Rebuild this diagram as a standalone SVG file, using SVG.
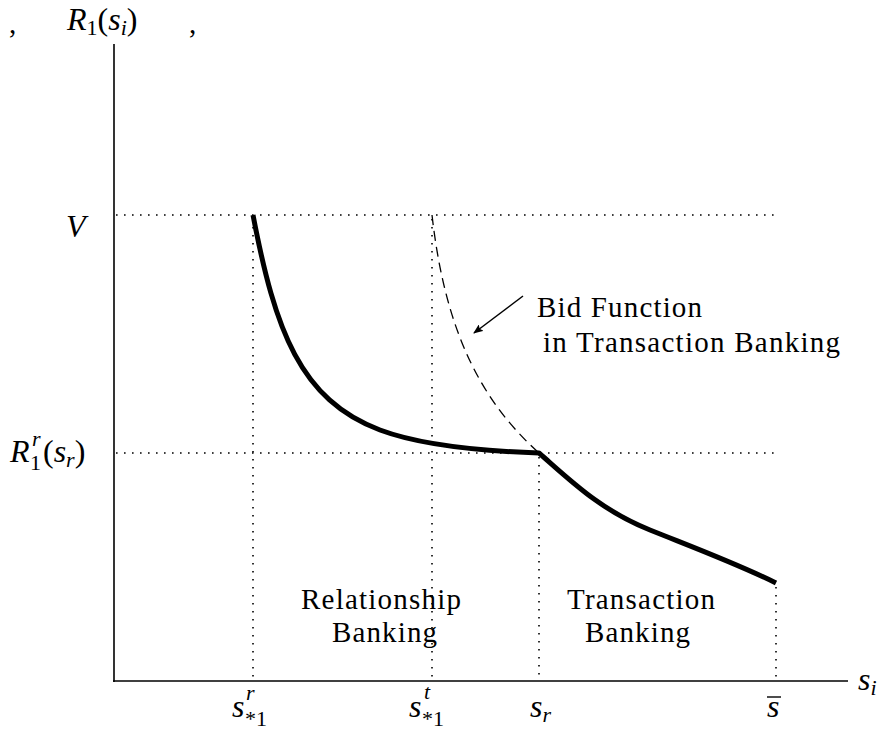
<svg xmlns="http://www.w3.org/2000/svg" width="885" height="731" viewBox="0 0 885 731">
<defs>
<marker id="ah" viewBox="0 0 10 8" refX="9" refY="4" markerWidth="10" markerHeight="8" orient="auto" markerUnits="userSpaceOnUse">
<path d="M0,0 L10,4 L0,8 L2,4 Z" fill="#000"/>
</marker>
</defs>
<g id="axes" stroke="#000" stroke-width="1.6" fill="none">
<line x1="114" y1="44" x2="114" y2="682"/>
<line x1="113" y1="681" x2="848" y2="681"/>
</g>
<g id="guides" stroke="#000" stroke-width="1.6" stroke-dasharray="1.6 6.4" fill="none">
<line x1="116" y1="215" x2="776" y2="215"/>
<line x1="116" y1="453" x2="776" y2="453"/>
<line x1="253" y1="219" x2="253" y2="680"/>
<line x1="432" y1="219" x2="432" y2="680"/>
<line x1="539" y1="457" x2="539" y2="680"/>
<line x1="776" y1="587" x2="776" y2="680"/>
</g>
<g id="connectors" fill="none" stroke="#000">
<path stroke-width="5" stroke-linejoin="round" d="M253,215 C275,330 300,400 380,430 C420,445 480,451 539,453 C570,480 600,510 650,530 C700,550 740,565 776,583"/>
<path stroke-width="1.3" stroke-dasharray="10 6" d="M432,215 C445,330 480,400 539,453"/>
<line x1="523" y1="296" x2="474" y2="333" stroke-width="1.5" marker-end="url(#ah)"/>
</g>
<g id="labels" fill="#000">
<text font-family="Times New Roman" font-size="29" x="9" y="33">,</text>
<text font-family="Times New Roman" font-size="29" x="189" y="33">,</text>
<text font-family="Times New Roman" font-size="32" x="67" y="30"><tspan font-style="italic">R</tspan><tspan font-size="22" dy="5">1</tspan><tspan dy="-5">(</tspan><tspan font-style="italic">s</tspan><tspan font-size="22" font-style="italic" dy="5">i</tspan><tspan dy="-5">)</tspan></text>
<text font-family="Times New Roman" font-size="32" font-style="italic" x="66" y="237">V</text>
<text font-family="Times New Roman" font-size="32" font-style="italic" x="10" y="462">R</text>
<text font-family="Times New Roman" font-size="22" font-style="italic" x="32" y="446">r</text>
<text font-family="Times New Roman" font-size="22" x="30" y="470">1</text>
<text font-family="Times New Roman" font-size="32" x="43" y="462">(<tspan font-style="italic">s</tspan><tspan font-size="22" font-style="italic" dy="5">r</tspan><tspan dy="-5">)</tspan></text>
<text font-family="Times New Roman" font-size="32" font-style="italic" x="232" y="717">s</text>
<text font-family="Times New Roman" font-size="22" font-style="italic" x="246" y="700">r</text>
<text font-family="Times New Roman" font-size="22" x="245" y="726">*1</text>
<text font-family="Times New Roman" font-size="32" font-style="italic" x="409" y="717">s</text>
<text font-family="Times New Roman" font-size="22" font-style="italic" x="424" y="699">t</text>
<text font-family="Times New Roman" font-size="22" x="422" y="726">*1</text>
<text font-family="Times New Roman" font-size="32" x="530" y="717"><tspan font-style="italic">s</tspan><tspan font-size="22" font-style="italic" dy="5">r</tspan></text>
<text font-family="Times New Roman" font-size="32" font-style="italic" x="767" y="717">s</text>
<line x1="767" y1="697" x2="781" y2="697" stroke="#000" stroke-width="1.4"/>
<text font-family="Times New Roman" font-size="32" x="858" y="690"><tspan font-style="italic">s</tspan><tspan font-size="22" font-style="italic" dy="5">i</tspan></text>
<text font-family="Times New Roman" font-size="29" x="537" y="317" textLength="165">Bid Function</text>
<text font-family="Times New Roman" font-size="29" x="543" y="352" textLength="297">in Transaction Banking</text>
<text font-family="Times New Roman" font-size="29" x="301" y="609" textLength="160">Relationship</text>
<text font-family="Times New Roman" font-size="29" x="332" y="642" textLength="105">Banking</text>
<text font-family="Times New Roman" font-size="29" x="567" y="609" textLength="148">Transaction</text>
<text font-family="Times New Roman" font-size="29" x="585" y="642" textLength="105">Banking</text>
</g>
</svg>
